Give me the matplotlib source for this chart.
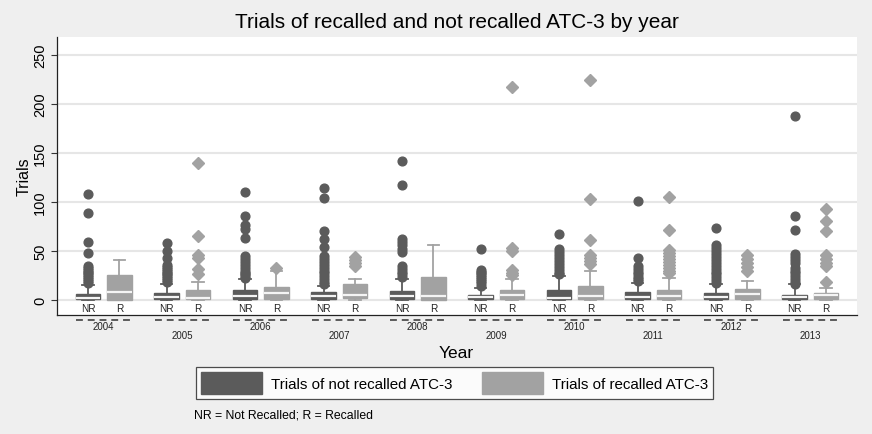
import matplotlib
matplotlib.use("Agg")
import matplotlib.pyplot as plt
from matplotlib.patches import Patch
from matplotlib.lines import Line2D
import matplotlib.transforms as mtransforms

plt.rcParams['font.family'] = ['Liberation Sans', 'DejaVu Sans']

years = ['2004', '2005', '2006', '2007', '2008', '2009', '2010', '2011', '2012', '2013']

# Not recalled (NR) box statistics
nr_lo  = [0, 0, 0, 0, 0, 0, 0, 0, 0, 0]
nr_q1  = [0.5, 0.5, 1, 1, 1, 0.5, 0.5, 1, 0.5, 0.5]
nr_med = [2.4, 3, 4.5, 4, 4.5, 2.7, 2.5, 3.5, 3, 3]
nr_q3  = [6.5, 7.5, 10.5, 8, 9, 5, 10.5, 8.5, 7.5, 5.5]
nr_hi  = [15, 16.7, 21, 14.3, 21, 12.2, 24, 17, 16, 16.5]
nr_out = [
    [108, 89, 59, 48, 35, 33, 31, 29, 27, 25, 23, 21, 19, 17],
    [58, 50, 43, 36, 34, 32, 30, 28, 26, 24, 22, 20, 18],
    [110, 86, 76, 72, 63, 45, 42, 39, 36, 33, 30, 28, 26, 24, 22],
    [114, 104, 70, 62, 54, 45, 42, 39, 36, 33, 30, 27, 24, 21, 18, 16],
    [142, 117, 62, 59, 56, 52, 49, 35, 32, 29, 26, 23],
    [52, 31, 29, 27, 25, 23, 21, 19, 17, 14],
    [67, 52, 49, 46, 43, 40, 37, 34, 31, 28, 26],
    [101, 43, 35, 32, 29, 26, 23, 21, 19],
    [73, 56, 53, 50, 47, 44, 41, 38, 35, 32, 29, 26, 23, 20, 17],
    [187, 86, 71, 47, 44, 41, 38, 33, 30, 27, 24, 21, 18, 16],
]

# Recalled (R) box statistics
r_lo  = [0, 0, 0, 0, 0, 0, 0, 0, 0, 0]
r_q1  = [0, 0.5, 1, 2.5, 0, 0.5, 1.5, 0.5, 0.5, 0.5]
r_med = [8.6, 2.5, 7.5, 5.5, 4, 5, 4, 3.7, 5.8, 5]
r_q3  = [25, 10, 13.6, 16, 23.5, 10, 14, 10, 11, 7.5]
r_hi  = [41, 18.4, 29.6, 21.8, 56, 21.8, 29.6, 22.5, 19, 12]
r_out = [
    [],
    [140, 65, 46, 43, 32, 26],
    [33],
    [44, 41, 38, 35],
    [],
    [217, 53, 50, 31, 28, 25],
    [224, 103, 61, 46, 43, 40, 37],
    [105, 71, 51, 48, 45, 42, 39, 36, 33, 30, 27],
    [46, 42, 38, 34, 30],
    [93, 80, 70, 46, 42, 38, 35, 18],
]

legend_labels = ['Trials of not recalled ATC-3', 'Trials of recalled ATC-3']
yticks = [0, 50, 100, 150, 200, 250]

NR_COL = '#5b5b5b'
R_COL = '#a2a2a2'
BG = '#efefef'

W, H = 872, 435
fig = plt.figure(figsize=(W / 100, H / 100), dpi=100, facecolor=BG)
ax = fig.add_axes([57 / W, 1 - 316 / H, 800 / W, 278 / H])
ax.set_facecolor('white')


def stats(lo, q1, med, q3, hi, out):
    return [dict(whislo=a, q1=b, med=c, q3=d, whishi=e, fliers=f)
            for a, b, c, d, e, f in zip(lo, q1, med, q3, hi, out)]


pos = list(range(len(years)))
nr_pos = [p - 0.2 for p in pos]
r_pos = [p + 0.2 for p in pos]

for st, ps, col, mk, ms in [
        (stats(nr_lo, nr_q1, nr_med, nr_q3, nr_hi, nr_out), nr_pos, NR_COL, 'o', 6.3),
        (stats(r_lo, r_q1, r_med, r_q3, r_hi, r_out), r_pos, R_COL, 'D', 6.0)]:
    ax.bxp(st, positions=ps, widths=0.31, patch_artist=True,
           capwidths=0.15,
           boxprops=dict(facecolor=col, edgecolor=col, linewidth=1),
           medianprops=dict(color='#f4f4f4', linewidth=1.6),
           whiskerprops=dict(color=col, linewidth=1.3),
           capprops=dict(color=col, linewidth=1.3),
           flierprops=dict(marker=mk, markerfacecolor=col, markeredgecolor=col,
                           markersize=ms, linestyle='none'),
           manage_ticks=False)

ax.set_xlim(-0.595, 9.595)
ax.set_ylim(-15.3, 268)
ax.set_yticks(yticks)
ax.set_yticklabels([str(t) for t in yticks], rotation=90, va='center', fontsize=10.5)
ax.tick_params(axis='y', length=4, width=0.8, color='#333333', pad=3)
ax.set_xticks([])
ax.grid(axis='y', color='#e6e6e6', linewidth=1.5)
ax.set_axisbelow(True)
for s in ['top', 'right']:
    ax.spines[s].set_visible(False)
ax.spines['left'].set_color('#222222')
ax.spines['bottom'].set_color('#222222')
ax.spines['left'].set_linewidth(0.9)
ax.spines['bottom'].set_linewidth(0.9)

ax.set_ylabel('Trials', fontsize=11.5, labelpad=1)

# NR / R labels under boxes
for p in nr_pos:
    ax.text(p, -8.5, 'NR', ha='center', va='center', fontsize=7.2, color='#222222')
for p in r_pos:
    ax.text(p, -8.5, 'R', ha='center', va='center', fontsize=7.2, color='#222222')

# year labels with dashed group lines below axis
trans = mtransforms.blended_transform_factory(ax.transData, ax.transAxes)
for i, y in enumerate(years):
    ax.add_line(Line2D([i - 0.35, i + 0.35], [-0.018, -0.018], transform=trans,
                       color='#333333', linewidth=1.1, linestyle=(0, (4.5, 3.2)),
                       clip_on=False))
    yy = -0.04 if i % 2 == 0 else -0.072
    ax.text(i, yy, y, transform=trans, ha='center', va='center', fontsize=7,
            color='#222222', clip_on=False)

fig.text(456 / W, 1 - 354 / H, 'Year', ha='center', va='center', fontsize=12.5)
fig.text(457 / W, 1 - 22 / H, 'Trials of recalled and not recalled ATC-3 by year',
         ha='center', va='center', fontsize=15)

handles = [Patch(facecolor=NR_COL, edgecolor=NR_COL),
           Patch(facecolor=R_COL, edgecolor=R_COL)]
leg = fig.legend(handles, legend_labels, ncol=2, loc='center',
                 bbox_to_anchor=(454.5 / W, 1 - 384 / H), fontsize=10.9,
                 frameon=True, fancybox=False, edgecolor='#222222',
                 facecolor='white', handlelength=4.0, handleheight=1.9,
                 handletextpad=0.6, columnspacing=2.0, borderpad=0.3,
                 borderaxespad=0)
leg.get_frame().set_linewidth(0.9)

fig.text(194 / W, 1 - 416 / H, 'NR = Not Recalled; R = Recalled', ha='left',
         va='center', fontsize=8.8)

fig.savefig('out.png', dpi=100, facecolor=BG)
